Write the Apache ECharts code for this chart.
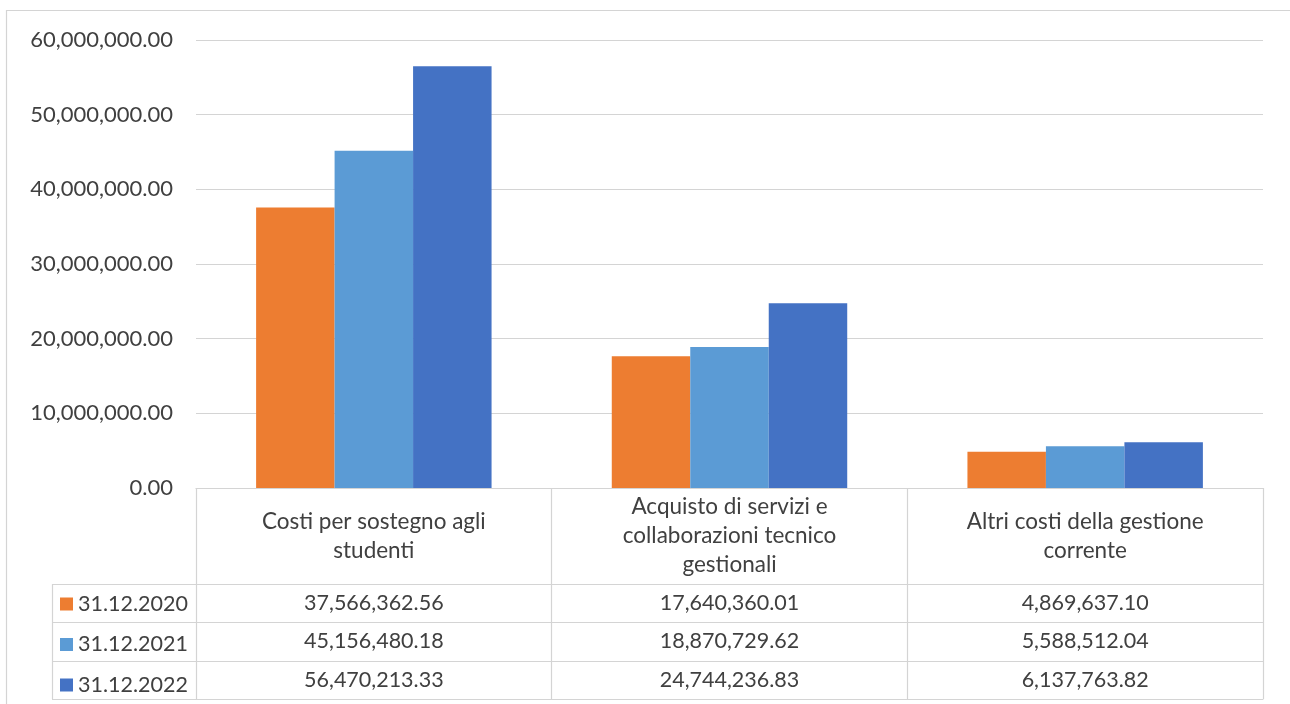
<!DOCTYPE html>
<html><head><meta charset="utf-8">
<script src="https://cdn.jsdelivr.net/npm/echarts@6/dist/echarts.min.js"></script>
<style>html,body{margin:0;padding:0;background:#fff}#c{width:1290px;height:704px}</style>
</head><body><div id="c"></div>
<script>
// ---- data ----
const categories = [
  'Costi per sostegno agli\nstudenti',
  'Acquisto di servizi e\ncollaborazioni tecnico\ngestionali',
  'Altri costi della gestione\ncorrente'
];
const seriesNames = ['31.12.2020', '31.12.2021', '31.12.2022'];
const values2020 = [37566362.56, 17640360.01, 4869637.10];
const values2021 = [45156480.18, 18870729.62, 5588512.04];
const values2022 = [56470213.33, 24744236.83, 6137763.82];
const yMin = 0, yMax = 60000000, yInterval = 10000000;

// ---- styles / layout ----
const colors = ['#ED7D31', '#5B9BD5', '#4472C4'];
const seriesValues = [values2020, values2021, values2022];
const FONT = 'Lato';
const TXT = '#404040';
const LINE = '#d4d4d4';
const gridLeft = 196, gridRight = 1263, gridTop = 40, axisY = 488;
const rowLines = [584, 622, 661, 699];
const legendColLeft = 52;

const fmt = v => v.toLocaleString('en-US', {minimumFractionDigits: 2, maximumFractionDigits: 2});

const chart = echarts.init(document.getElementById('c'), null, {renderer: 'canvas'});

const xAxes = [{
  type: 'category', data: categories, gridIndex: 0, position: 'bottom',
  axisLine: {show: true, lineStyle: {color: LINE, width: 1.2}},
  axisTick: {show: true, interval: 0, length: rowLines[3] - axisY, lineStyle: {color: LINE, width: 1.2}},
  axisLabel: {interval: 0, margin: 48, verticalAlign: 'middle', lineHeight: 29,
    fontFamily: FONT, fontSize: 22.5, color: TXT}
}];
for (let i = 0; i < 3; i++) {
  xAxes.push({
    type: 'category', data: categories, gridIndex: 0, position: 'bottom',
    offset: rowLines[i] - axisY,
    axisLine: {show: true, lineStyle: {color: LINE, width: 1.2}},
    axisTick: {show: false},
    axisLabel: {interval: 0, margin: (rowLines[i + 1] - rowLines[i]) / 2, verticalAlign: 'middle',
      fontFamily: FONT, fontSize: 21.5, color: TXT,
      formatter: (v, idx) => fmt(seriesValues[i][idx])}
  });
}
xAxes.push({
  type: 'category', data: categories, gridIndex: 0, position: 'bottom',
  offset: rowLines[3] - axisY,
  axisLine: {show: true, lineStyle: {color: LINE, width: 1.2}},
  axisTick: {show: false}, axisLabel: {show: false}
});

const graphics = [
  {type: 'rect', shape: {x: 6.5, y: 10.5, width: 1300, height: 720}, style: {fill: 'none', stroke: LINE, lineWidth: 1.2}, silent: true},
  {type: 'line', shape: {x1: legendColLeft + 0.5, y1: rowLines[0], x2: legendColLeft + 0.5, y2: rowLines[3]}, style: {stroke: LINE, lineWidth: 1.2}, silent: true}
];
rowLines.forEach(y => graphics.push({type: 'line', shape: {x1: legendColLeft, y1: y + 0.5, x2: gridLeft, y2: y + 0.5}, style: {stroke: LINE, lineWidth: 1.2}, silent: true}));

chart.setOption({
  animation: false,
  color: colors,
  grid: {left: gridLeft, right: 1290 - gridRight, top: gridTop, bottom: 704 - axisY, containLabel: false},
  legend: {
    orient: 'vertical', left: 60, top: 593, padding: 0,
    itemWidth: 13, itemHeight: 13, itemGap: 18.5, icon: 'rect',
    data: seriesNames,
    textStyle: {fontFamily: FONT, fontSize: 21.5, color: TXT, lineHeight: 20},
    selectedMode: false
  },
  xAxis: xAxes,
  yAxis: {
    type: 'value', min: yMin, max: yMax, interval: yInterval,
    axisLine: {show: false}, axisTick: {show: false},
    axisLabel: {margin: 23, fontFamily: FONT, fontSize: 22, color: TXT, formatter: v => fmt(v)},
    splitLine: {lineStyle: {color: LINE, width: 1.2}}
  },
  graphic: graphics,
  series: seriesNames.map((n, i) => ({
    name: n, type: 'bar', data: seriesValues[i],
    barGap: 0, barCategoryGap: '33.8%',
    itemStyle: {color: colors[i]}
  }))
});
</script></body></html>
